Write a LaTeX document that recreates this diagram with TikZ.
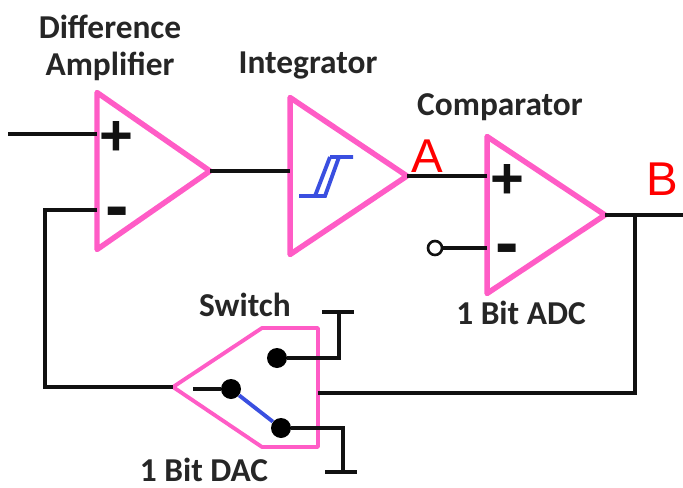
\documentclass[tikz,border=0pt]{standalone}
\usepackage{fontspec}
\setmainfont{Carlito}
\newfontfamily\signfont{Liberation Sans}
\definecolor{AmpPink}{HTML}{FF5CC6}
\definecolor{SwitchBlue}{HTML}{3A4FE0}
\definecolor{LabelRed}{HTML}{FF0000}
\definecolor{WireBlack}{HTML}{111111}
\definecolor{TextBlack}{HTML}{262626}
\usetikzlibrary{shapes.geometric}
\tikzset{
  ampNode/.style={draw=AmpPink, line width=3.1pt, line join=round, shape=isosceles triangle, isosceles triangle stretches, shape border rotate=0, inner sep=0pt, outer sep=0pt, minimum width=3.14cm, minimum height=2.26cm, anchor=apex},
  switchBody/.style={draw=AmpPink, line width=2.2pt, line join=round},
  wire/.style={draw=WireBlack, line width=2.2pt},
  blueWire/.style={draw=SwitchBlue, line width=2.2pt},
  contactNode/.style={circle, fill=black, inner sep=0pt, minimum size=0.4cm},
  portNode/.style={circle, draw=WireBlack, line width=1.5pt, fill=white, inner sep=0pt, minimum size=0.28cm},
  blockLabel/.style={font=\fontsize{19}{21}\selectfont\bfseries, text=TextBlack, inner sep=0pt},
  signLabel/.style={font=\signfont\fontsize{33}{33}\selectfont\bfseries, text=WireBlack, inner sep=0pt},
  minusLabel/.style={font=\signfont\fontsize{40}{40}\selectfont\bfseries, text=WireBlack, inner sep=0pt},
  pointLabel/.style={font=\signfont\fontsize{27}{27}\selectfont, text=LabelRed, inner sep=0pt}
}
\begin{document}
\begin{tikzpicture}[x=0.02cm,y=-0.02cm]
\useasboundingbox (0,0) rectangle (683,487);
% amplifier stages
\node[ampNode] (diffAmp) at (210,171) {};
\node[ampNode, minimum height=2.34cm] (integrator) at (407,176) {};
\node[ampNode, minimum height=2.36cm] (comparator) at (605,215) {};
% free ends of the wires
\coordinate (inPort) at (8,134);
\coordinate (diffPlus) at (97,134);
\coordinate (diffMinus) at (97,210);
\coordinate (integIn) at (290,171);
\coordinate (compPlus) at (487,176);
\coordinate (compMinus) at (487,248);
\coordinate (outEnd) at (683,215);
\coordinate (outTap) at (635,215);
% switch body
\coordinate (swTip) at (173,387);
\coordinate (swOut) at (318,393);
\draw[switchBody] (swTip) -- (262,328) -- (318,328) -- (318,447) -- (262,447) -- cycle;
\node[contactNode] (contactTop) at (277,358) {};
\node[contactNode] (contactArm) at (231,389) {};
\node[contactNode] (contactBot) at (281,428) {};
\coordinate (armStub) at (193,389);
\coordinate (railTop) at (339,312);
\coordinate (railBot) at (343,472);
\node[portNode] (refPort) at (435,248) {};
% wires
\draw[wire] (inPort) -- (diffPlus);
\draw[wire] (diffAmp.apex) -- (integIn);
\draw[wire] (integrator.apex) -- (compPlus);
\draw[wire] (refPort) -- (compMinus);
\draw[wire] (comparator.apex) -- (outEnd);
\draw[wire] (outTap) |- (swOut);
\draw[wire] (diffMinus) -| (45,387) -- (swTip);
\draw[wire] (armStub) -- (contactArm);
\draw[wire] (contactTop) -| (railTop);
\draw[wire] (contactBot) -| (railBot);
\draw[wire] (322,312) -- (354,312);
\draw[wire] (325,472) -- (357,472);
\draw[blueWire] (contactArm) -- (contactBot);
% hysteresis mark
\draw[blueWire] (299,196) -- (325,196) -- (339,157) -- (353,157) (330,157) -- (339,157) (330,157) -- (315,196);
% labels
\node[blockLabel] (diffLabelA) at (110,27) {Difference};
\node[blockLabel] (diffLabelB) at (110,66) {Amplifier};
\node[blockLabel] (integLabel) at (308,66) {Integrator};
\node[blockLabel] (compLabel) at (500,107) {Comparator};
\node[blockLabel] (swLabel) at (245,305) {Switch};
\node[blockLabel] (adcLabel) at (521,313) {1 Bit ADC};
\node[blockLabel] (dacLabel) at (204,470) {1 Bit DAC};
\node[signLabel] (diffPlusSign) at (116,138) {+};
\node[minusLabel] (diffMinusSign) at (117,218.5) {-};
\node[signLabel] (compPlusSign) at (507,181) {+};
\node[minusLabel] (compMinusSign) at (507,255.5) {-};
\node[pointLabel] (pointA) at (427,156) {A};
\node[pointLabel] (pointB) at (662,179) {B};
\end{tikzpicture}
\end{document}
